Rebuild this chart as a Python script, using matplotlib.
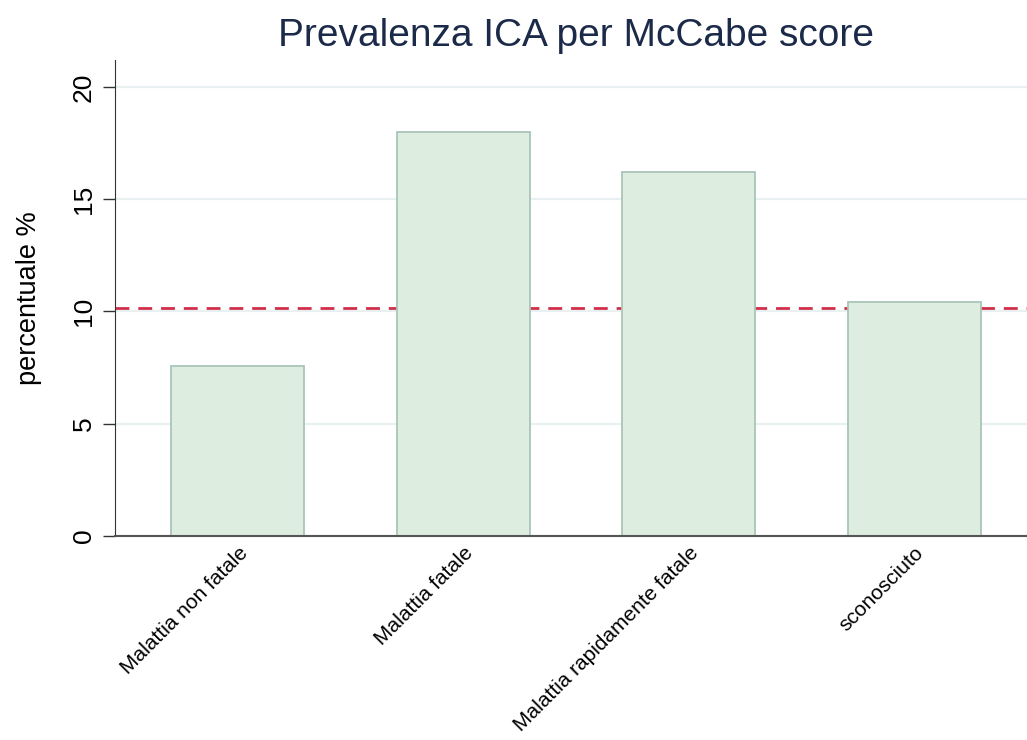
import matplotlib
matplotlib.use("Agg")
import matplotlib.pyplot as plt

plt.rcParams['font.family'] = ['Liberation Sans', 'DejaVu Sans']

categories = ["Malattia non fatale", "Malattia fatale", "Malattia rapidamente fatale", "sconosciuto"]
values = [7.55, 18.0, 16.2, 10.4]
reference_line = 10.15
yticks = [0, 5, 10, 15, 20]

fig = plt.figure(figsize=(10.27, 7.4), dpi=100)
ax = fig.add_axes([0.112, 0.2757, 0.888, 0.6433])

x = list(range(len(categories)))
ax.set_axisbelow(True)
ax.yaxis.grid(True, color='#e8f0f1', linewidth=1.6)
ax.bar(x, values, width=0.59, color='#ddeddf', edgecolor='#a9c5b9', linewidth=1.3, zorder=2)
ax.axhline(reference_line, color='#d0304a', linestyle=(0, (5, 3.2)), linewidth=2, zorder=1)

ax.set_xlim(-0.545, 3.5)
ax.set_ylim(0, 21.2)
ax.set_yticks(yticks)
ax.set_yticklabels([str(t) for t in yticks], rotation=90, va='center', fontsize=19)
ax.set_xticks(x)
ax.set_xticklabels(categories, rotation=45, ha='right', rotation_mode='anchor', fontsize=15)
ax.tick_params(axis='x', length=0, pad=5)
ax.tick_params(axis='y', length=9, width=1, color='#333333', pad=5)
ax.set_ylabel("percentuale %", fontsize=19.5, labelpad=21)

for s in ['top', 'right']:
    ax.spines[s].set_visible(False)
ax.spines['left'].set_color('#333333')
ax.spines['bottom'].set_color('#555555')
ax.spines['bottom'].set_linewidth(1.5)

fig.suptitle("Prevalenza ICA per McCabe score", fontsize=28, color='#1c2a4a', x=0.561, y=0.976)

fig.savefig("out.png", dpi=100)
